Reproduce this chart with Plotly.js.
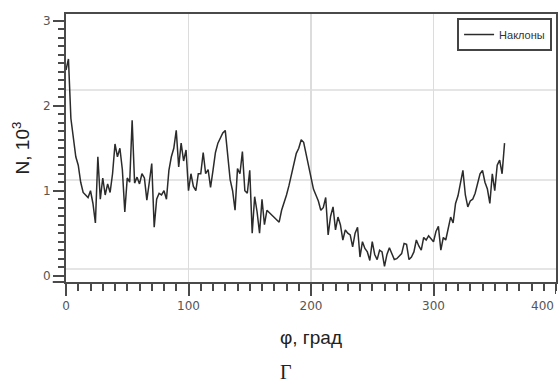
<!DOCTYPE html>
<html>
<head>
<meta charset="utf-8">
<script src="https://cdn.plot.ly/plotly-3.0.1.min.js"></script>
<style>html,body{margin:0;padding:0;background:#fff;}#chart{width:558px;height:383px;}</style>
</head>
<body>
<div id="chart"></div>
<script>
// Angle φ (degrees)
var phi = [0,2,4,6,8,10,12,14,16,18,20,22,24,26,28,30,32,34,36,38,40,42,44,46,48,50,52,54,56,58,
  60,62,64,66,68,70,72,74,76,78,80,82,84,86,88,90,92,94,96,98,100,102,104,106,108,110,112,114,116,118,
  120,122,124,126,128,130,132,134,136,138,140,142,144,146,148,150,152,154,156,158,160,162,164,166,168,170,172,174,176,178,
  180,182,184,186,188,190,192,194,196,198,200,202,204,206,208,210,212,214,216,218,220,222,224,226,228,230,232,234,236,238,
  240,242,244,246,248,250,252,254,256,258,260,262,264,266,268,270,272,274,276,278,280,282,284,286,288,290,292,294,296,298,
  300,302,304,306,308,310,312,314,316,318,320,322,324,326,328,330,332,334,336,338,340,342,344,346,348,350,352,354,356,358];
// N, 10^3 — "Наклоны"
var naklony = [2.42,2.55,1.85,1.6,1.4,1.3,1.1,0.98,0.95,0.92,1.0,0.85,0.62,1.4,0.9,1.15,0.95,1.08,0.98,1.2,
  1.55,1.4,1.5,1.25,0.75,1.15,1.1,1.83,1.09,1.16,1.08,1.2,1.15,0.89,1.1,1.32,0.57,0.9,0.97,0.95,
  1.0,0.9,1.24,1.4,1.5,1.71,1.28,1.56,1.35,1.48,1.0,1.2,1.05,1.0,1.2,1.2,1.45,1.2,1.25,1.04,
  1.24,1.45,1.56,1.62,1.68,1.71,1.4,1.13,1.0,0.77,1.26,1.2,1.46,1.0,0.97,1.24,0.5,0.93,0.75,0.5,
  0.9,0.6,0.77,0.74,0.72,0.69,0.66,0.63,0.77,0.85,0.95,1.06,1.2,1.34,1.44,1.5,1.6,1.57,1.43,1.26,
  1.12,1.02,0.95,0.88,0.77,0.8,0.92,0.48,0.7,0.81,0.54,0.69,0.6,0.42,0.54,0.5,0.48,0.34,0.5,0.57,
  0.22,0.4,0.32,0.28,0.18,0.4,0.25,0.19,0.3,0.28,0.11,0.25,0.33,0.27,0.19,0.2,0.23,0.26,0.38,0.37,
  0.19,0.22,0.28,0.42,0.35,0.3,0.45,0.42,0.47,0.44,0.4,0.52,0.58,0.3,0.45,0.42,0.55,0.69,0.62,0.85,
  0.94,1.1,1.24,0.95,0.81,0.88,0.9,0.97,1.1,1.2,1.24,1.1,1.02,0.85,1.2,1.0,1.3,1.36,1.2,1.56];
var xTickVals = [0, 100, 200, 300, 400];
var seriesName = "Наклоны";
var xTitle = "φ, град";
var yTitle = "N, 10<sup>3</sup>";
var caption = "Г";

var axisColor = "#4a4a4a";
var gridColor = "#dcdcdc";
var tickFont = {family: "DejaVu Sans, Verdana, sans-serif", size: 12, color: "#555"};

var trace = {
  x: phi, y: naklony, type: "scatter", mode: "lines", name: seriesName,
  line: {color: "#2b2b2b", width: 1.5}
};

var lastTick = xTickVals[xTickVals.length - 1];

var layout = {
  width: 558, height: 383,
  margin: {l: 66, r: 2, t: 14, b: 101},
  paper_bgcolor: "#fff", plot_bgcolor: "#fff",
  showlegend: true,
  legend: {
    x: 0.992, y: 0.985, xanchor: "right", yanchor: "top",
    bgcolor: "#fff", bordercolor: "#444", borderwidth: 2,
    font: {family: "Liberation Sans, Arial, sans-serif", size: 11, color: "#333"},
    itemwidth: 30, tracegroupgap: 0
  },
  xaxis: {
    range: [0, 400], tickmode: "array", tickvals: xTickVals.slice(0, -1),
    showline: true, linecolor: axisColor, linewidth: 2, mirror: true,
    ticks: "outside", ticklen: 12, tickwidth: 2, tickcolor: axisColor,
    minor: {dtick: 10, tick0: 0, ticklen: 7, tickwidth: 2, tickcolor: axisColor, showgrid: false},
    showgrid: true, gridcolor: gridColor, gridwidth: 1.5,
    zeroline: false, tickfont: tickFont,
    title: {text: xTitle, font: {family: "Liberation Sans, Arial, sans-serif", size: 19, color: "#222"}, standoff: 18}
  },
  yaxis: {
    range: [-0.074, 3.08], dtick: 1, tick0: 0,
    showline: true, linecolor: axisColor, linewidth: 2, mirror: true,
    ticks: "outside", ticklen: 11, tickwidth: 2, tickcolor: axisColor,
    minor: {dtick: 0.1, tick0: 0, ticklen: 6, tickwidth: 2, tickcolor: axisColor, showgrid: false},
    showgrid: false, zeroline: false, tickfont: tickFont,
    title: {text: yTitle, font: {family: "Liberation Sans, Arial, sans-serif", size: 19, color: "#222"}, standoff: 8}
  },
  shapes: [
    {type: "line", xref: "paper", yref: "paper", x0: 0, x1: 1, y0: 0.0485, y1: 0.0485, line: {color: gridColor, width: 1.5}, layer: "below"},
    {type: "line", xref: "paper", yref: "paper", x0: 0, x1: 1, y0: 0.381, y1: 0.381, line: {color: gridColor, width: 1.5}, layer: "below"},
    {type: "line", xref: "paper", yref: "paper", x0: 0, x1: 1, y0: 0.716, y1: 0.716, line: {color: gridColor, width: 1.5}, layer: "below"},
    {type: "line", xref: "paper", yref: "paper", x0: -0.027, x1: 0, y0: 0, y1: 0, line: {color: axisColor, width: 2}},
    {type: "line", xref: "x", yref: "paper", x0: lastTick, x1: lastTick, y0: 0, y1: -0.045, line: {color: axisColor, width: 2}}
  ],
  annotations: [
    {text: String(lastTick), xref: "x", yref: "paper", x: lastTick, y: 0, xanchor: "right", yanchor: "top",
     yshift: -15, showarrow: false, font: tickFont},
    {text: caption, xref: "paper", yref: "paper", x: 0.449, y: -0.335, xanchor: "center", yanchor: "middle",
     showarrow: false, font: {family: "Liberation Serif, Times New Roman, serif", size: 20, color: "#222"}}
  ]
};

Plotly.newPlot("chart", [trace], layout, {staticPlot: true, displayModeBar: false});
</script>
</body>
</html>
